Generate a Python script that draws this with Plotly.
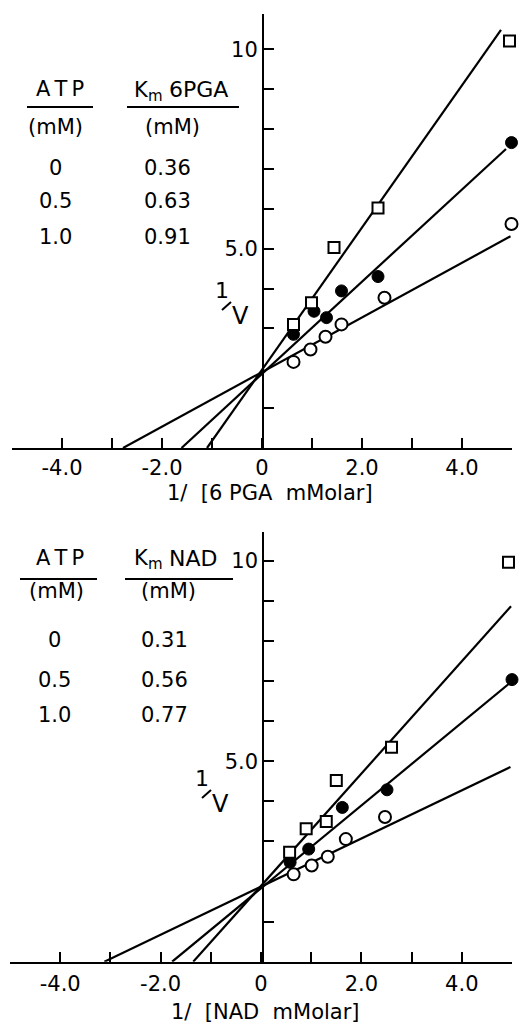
import plotly.graph_objects as go

W, H = 524, 1030
FONT = "DejaVu Sans"

# ---------------- data: top panel, 1/[6PGA] ----------------
pga_x_atp0 = [0.63, 0.97, 1.27, 1.59, 2.45, 4.99]
pga_y_atp0 = [2.16, 2.47, 2.79, 3.10, 3.77, 5.62]
pga_x_atp05 = [0.63, 1.04, 1.29, 1.59, 2.32, 4.99]
pga_y_atp05 = [2.85, 3.43, 3.27, 3.94, 4.30, 7.66]
pga_x_atp1 = [0.63, 0.99, 1.44, 2.32, 4.95]
pga_y_atp1 = [3.10, 3.64, 5.03, 6.02, 10.21]
pga_fit_x_atp0 = [-2.78, 4.97]
pga_fit_y_atp0 = [0.0, 5.31]
pga_fit_x_atp05 = [-1.61, 4.88]
pga_fit_y_atp05 = [0.0, 7.50]
pga_fit_x_atp1 = [-1.10, 4.78]
pga_fit_y_atp1 = [0.0, 10.49]

# ---------------- data: bottom panel, 1/[NAD] ----------------
nad_x_atp0 = [0.65, 1.01, 1.33, 1.69, 2.47, 5.03]
nad_y_atp0 = [2.18, 2.40, 2.62, 3.06, 3.61, 4.56]
nad_x_atp05 = [0.58, 0.95, 1.62, 2.51, 5.00]
nad_y_atp05 = [2.48, 2.81, 3.85, 4.29, 7.04]
nad_x_atp1 = [0.57, 0.90, 1.30, 1.50, 2.60, 4.93]
nad_y_atp1 = [2.73, 3.32, 3.50, 4.52, 5.35, 9.97]
nad_fit_x_atp0 = [-3.12, 4.97]
nad_fit_y_atp0 = [0.0, 4.86]
nad_fit_x_atp05 = [-1.77, 4.98]
nad_fit_y_atp05 = [0.0, 6.98]
nad_fit_x_atp1 = [-1.35, 4.98]
nad_fit_y_atp1 = [0.0, 8.87]

# ---------------- table text ----------------
atp_levels = ["0", "0.5", "1.0"]
km_6pga = ["0.36", "0.63", "0.91"]
km_nad = ["0.31", "0.56", "0.77"]

# ---------------- ticks ----------------
x_tickvals = [-4, -2, 0, 2, 4]
x_ticktext = ["-4.0", "-2.0", "0", "2.0", "4.0"]
x_minor_vals = [-5, -3, -1, 1, 3, 5]
y_tickvals = [5, 10]
y_ticktext = ["5.0", "10"]
y_minor_vals = [1, 3, 4, 6, 7, 8, 9]


def px(x):
    return x / W


def py(y):
    return 1 - y / H


fig = go.Figure()

marker_styles = {
    "atp0": dict(symbol="circle", size=12, color="white", line=dict(color="black", width=2)),
    "atp05": dict(symbol="circle", size=12, color="black", line=dict(color="black", width=1)),
    "atp1": dict(symbol="square", size=11, color="white", line=dict(color="black", width=2)),
}

panels = [
    ("x", "y",
     [(pga_fit_x_atp0, pga_fit_y_atp0), (pga_fit_x_atp05, pga_fit_y_atp05), (pga_fit_x_atp1, pga_fit_y_atp1)],
     [("atp0", pga_x_atp0, pga_y_atp0), ("atp05", pga_x_atp05, pga_y_atp05), ("atp1", pga_x_atp1, pga_y_atp1)]),
    ("x2", "y2",
     [(nad_fit_x_atp0, nad_fit_y_atp0), (nad_fit_x_atp05, nad_fit_y_atp05), (nad_fit_x_atp1, nad_fit_y_atp1)],
     [("atp0", nad_x_atp0, nad_y_atp0), ("atp05", nad_x_atp05, nad_y_atp05), ("atp1", nad_x_atp1, nad_y_atp1)]),
]

for xa, ya, fits, pts in panels:
    for fx, fy in fits:
        fig.add_trace(go.Scatter(x=fx, y=fy, mode="lines", xaxis=xa, yaxis=ya,
                                 line=dict(color="black", width=2.2),
                                 showlegend=False, hoverinfo="skip", cliponaxis=False))
    for key, sx, sy in pts:
        fig.add_trace(go.Scatter(x=sx, y=sy, mode="markers", xaxis=xa, yaxis=ya,
                                 marker=marker_styles[key], showlegend=False,
                                 cliponaxis=False))

axis_common = dict(showgrid=False, zeroline=False, showline=True, linecolor="black",
                   linewidth=2, ticks="inside", tickcolor="black", tickwidth=2,
                   ticklen=10, tickfont=dict(family=FONT, size=21, color="black"))


def minor(vals):
    return dict(tickmode="array", tickvals=vals, ticks="inside", ticklen=10,
                tickwidth=2, tickcolor="black", showgrid=False)


# panel geometry (pixels)
top = dict(x0=12, x1=512, yzero=448, ytop=14, unit=39.87, xaxis0=263)
bot = dict(x0=10, x1=512, yzero=961.7, ytop=531.7, unit=40.07, xaxis0=263.3)

fig.update_layout(
    width=W, height=H,
    margin=dict(l=0, r=0, t=0, b=0),
    paper_bgcolor="white", plot_bgcolor="white",
    font=dict(family=FONT, color="black"),
    xaxis=dict(domain=[px(top["x0"]), px(top["x1"])], range=[-5, 5], anchor="y",
               tickmode="array", tickvals=x_tickvals, ticktext=x_ticktext,
               minor=minor(x_minor_vals), ticklabelstandoff=0, **axis_common),
    yaxis=dict(domain=[py(top["yzero"]), py(top["ytop"])],
               range=[0, (top["yzero"] - top["ytop"]) / top["unit"]],
               anchor="free", position=px(top["xaxis0"]),
               tickmode="array", tickvals=y_tickvals, ticktext=y_ticktext,
               minor=minor(y_minor_vals), ticklabelstandoff=0, **axis_common),
    xaxis2=dict(domain=[px(bot["x0"]), px(bot["x1"])], range=[-5, 5], anchor="y2",
                tickmode="array", tickvals=x_tickvals, ticktext=x_ticktext,
                minor=minor(x_minor_vals), ticklabelstandoff=2, **axis_common),
    yaxis2=dict(domain=[py(bot["yzero"]), py(bot["ytop"])],
                range=[0, (bot["yzero"] - bot["ytop"]) / bot["unit"]],
                anchor="free", position=px(bot["xaxis0"]),
                tickmode="array", tickvals=y_tickvals, ticktext=y_ticktext,
                minor=minor(y_minor_vals), ticklabelstandoff=0, **axis_common),
)

annotations = []
shapes = []


def text(s, x, y, size=21, xanchor="center"):
    annotations.append(dict(text=s, x=px(x), y=py(y), xref="paper", yref="paper",
                            showarrow=False, xanchor=xanchor, yanchor="middle",
                            borderpad=0,
                            font=dict(family=FONT, size=size, color="black")))


def seg(x0, y0, x1, y1, width=2):
    shapes.append(dict(type="line", xref="paper", yref="paper", x0=px(x0), x1=px(x1),
                       y0=py(y0), y1=py(y1), line=dict(color="black", width=width)))


def hline(x0, x1, y):
    seg(x0, y, x1, y)


def km_header(name, x, y):
    # "K" with subscript "m", followed by the substrate name
    text("K", x, y)
    text("m", x + 14, y + 6, size=15)
    text(name, x + 27, y, size=22, xanchor="left")


def inv_v(x, y):
    # "1/V" axis title: 1 raised, slash drawn as a stroke, V lowered
    text("1", x - 10, y - 11, size=22)
    seg(x - 10, y + 9, x - 1, y + 1, width=2)
    text("V", x + 8, y + 15, size=24)


ATP_LABEL = "A\u2009T\u2009P"

# ----- top table -----
text(ATP_LABEL, 60, 89)
hline(27, 93, 107)
text("(mM)", 55, 127)
km_header("6PGA", 141, 90)
hline(127, 239, 107)
text("(mM)", 172, 127)
for i, yy in enumerate([168, 201, 237]):
    text(atp_levels[i], 55, yy)
    text(km_6pga[i], 143, yy, xanchor="left")

# ----- bottom table -----
text(ATP_LABEL, 60, 558)
hline(20, 97, 579)
text("(mM)", 56, 591)
km_header("NAD", 141, 558)
hline(125, 233, 579)
text("(mM)", 168, 591)
for i, yy in enumerate([640, 680, 715]):
    text(atp_levels[i], 54, yy)
    text(km_nad[i], 140, yy, xanchor="left")

# ----- axis titles -----
inv_v(232, 301)
inv_v(212, 789)
text("1/  [6 PGA  mMolar]", 270, 493, size=21)
text("1/  [NAD  mMolar]", 265, 1012, size=21)

fig.update_layout(annotations=annotations, shapes=shapes)

fig.write_html("out.html", config={"displayModeBar": False},
               post_script="document.body.style.margin='0';document.body.style.overflow='hidden';")
